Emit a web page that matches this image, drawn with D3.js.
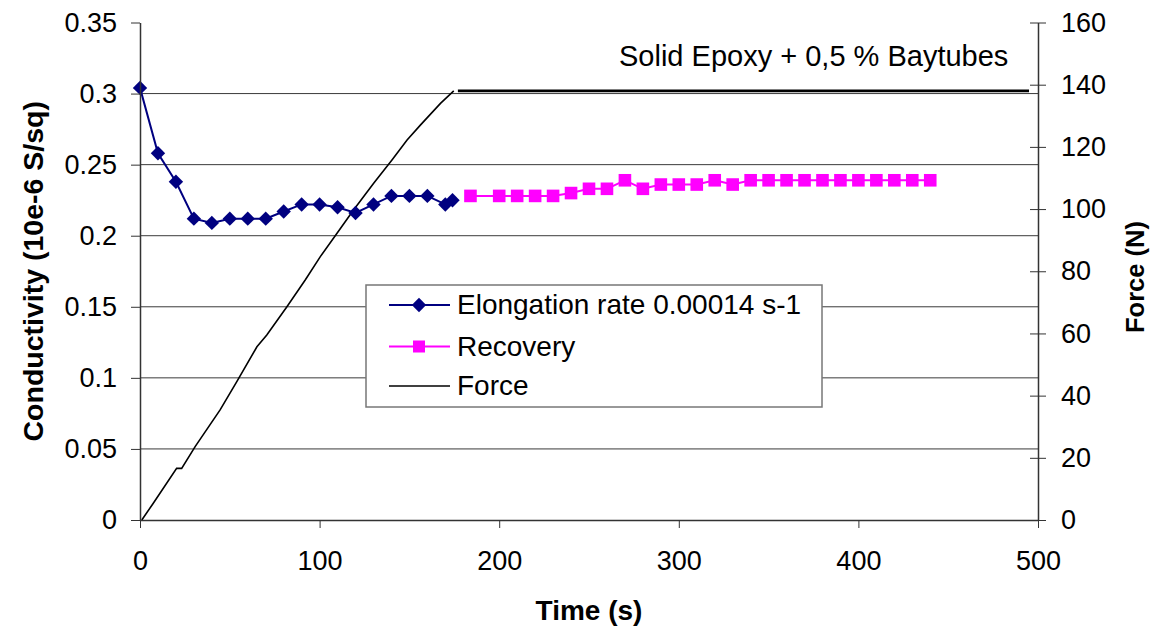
<!DOCTYPE html>
<html><head><meta charset="utf-8">
<script src="https://cdn.jsdelivr.net/npm/d3@7"></script>
<style>
body{margin:0;background:#fff;}
text{font-family:"Liberation Sans",Arial,sans-serif;fill:#000;}
</style>
</head><body>
<svg id="chart" width="1151" height="629"></svg>
<script>
// ---- data ----
const elongTime = [0,10,20,30,40,50,60,70,80,90,100,110,120,130,140,150,160,170,174];
const elongCond = [0.304,0.258,0.238,0.212,0.209,0.212,0.212,0.212,0.217,0.222,0.222,0.220,0.216,0.222,0.228,0.228,0.228,0.222,0.225];
const recTime = [184,200,210,220,230,240,250,260,270,280,290,300,310,320,330,340,350,360,370,380,390,400,410,420,430,440];
const recCond = [0.228,0.228,0.228,0.228,0.228,0.230,0.233,0.233,0.239,0.233,0.236,0.236,0.236,0.239,0.236,0.239,0.239,0.239,0.239,0.239,0.239,0.239,0.239,0.239,0.239,0.239];
const forceTime = [1,7.4,20.4,23.2,30.7,44.6,53.9,65.1,70.6,81.8,92.0,100.4,109.7,118.9,130.1,140.3,148.7,156.1,167.3,174.7,175.8,177,495];
const forceVal  = [0,5.4,16.6,16.6,23.6,35.4,44.5,55.7,59.5,68.6,77.2,84.7,92.2,99.7,108.3,115.8,122.2,127.0,134.0,138.0,null,138.0,138.0];
const xTicks = [0,100,200,300,400,500];
const yLeftTicks = [0,0.05,0.1,0.15,0.2,0.25,0.3,0.35];
const yRightTicks = [0,20,40,60,80,100,120,140,160];
const seriesNames = ["Elongation rate 0.00014 s-1","Recovery","Force"];
const annotation = "Solid Epoxy + 0,5 % Baytubes";

// ---- scales ----
const svg = d3.select("#chart");
const x = d3.scaleLinear().domain([0,500]).range([140,1038]);
const yL = d3.scaleLinear().domain([0,0.35]).range([520,22.5]);
const yR = d3.scaleLinear().domain([0,160]).range([520,22.5]);

// gridlines
svg.append("g").selectAll("line").data(yLeftTicks.filter(d=>d>0 && d<0.35)).join("line")
  .attr("x1",x(0)).attr("x2",x(500)).attr("y1",d=>yL(d)).attr("y2",d=>yL(d))
  .attr("stroke","#3a3a3a").attr("stroke-width",1);

// force line (secondary axis), split into segments at gaps
const forcePts = forceTime.map((t,i)=>({t,f:forceVal[i]}));
const segs = [];
let cur = [];
forcePts.forEach(p=>{ if(p.f==null){ if(cur.length) segs.push(cur); cur=[]; } else cur.push(p); });
if(cur.length) segs.push(cur);
const fLine = d3.line().x(d=>x(d.t)).y(d=>yR(d.f));
svg.append("g").selectAll("path").data(segs).join("path")
  .attr("d",fLine).attr("fill","none").attr("stroke","#000")
  .attr("stroke-width",(d,i)=>i===segs.length-1?2.6:1.6);

// elongation series
const ePts = elongTime.map((t,i)=>({t,v:elongCond[i]}));
const cLine = d3.line().x(d=>x(d.t)).y(d=>yL(d.v));
svg.append("path").datum(ePts).attr("d",cLine).attr("fill","none").attr("stroke","#000080").attr("stroke-width",2);
const diamond = "M0,-7.2L7.2,0L0,7.2L-7.2,0Z";
svg.append("g").selectAll("path").data(ePts).join("path")
  .attr("d",diamond).attr("transform",d=>`translate(${x(d.t)},${yL(d.v)})`).attr("fill","#000080");

// recovery series
const rPts = recTime.map((t,i)=>({t,v:recCond[i]}));
svg.append("path").datum(rPts).attr("d",cLine).attr("fill","none").attr("stroke","#FF00FF").attr("stroke-width",2);
svg.append("g").selectAll("rect").data(rPts).join("rect")
  .attr("x",d=>x(d.t)-6.3).attr("y",d=>yL(d.v)-6.3).attr("width",12.6).attr("height",12.6).attr("fill","#FF00FF");

// axes
const axL = d3.axisLeft(yL).tickValues(yLeftTicks).tickSizeInner(9).tickSizeOuter(0).tickPadding(14).tickFormat(d=>String(d));
const gL = svg.append("g").attr("transform",`translate(${x(0)},0)`).call(axL);
const axB = d3.axisBottom(x).tickValues(xTicks).tickSizeInner(8).tickSizeOuter(0).tickPadding(23).tickFormat(d=>String(d));
const gB = svg.append("g").attr("transform",`translate(0,${yL(0)})`).call(axB);
const axR = d3.axisRight(yR).tickValues(yRightTicks).tickSizeInner(8).tickSizeOuter(0).tickPadding(15).tickFormat(d=>String(d));
const gR = svg.append("g").attr("transform",`translate(${x(500)},0)`).call(axR);
gR.selectAll(".tick line").attr("x1",-8).attr("x2",8);
[gL,gB,gR].forEach(g=>{
  g.selectAll("text").attr("font-size",27).attr("font-family",'"Liberation Sans",Arial,sans-serif').attr("fill","#000");
  g.selectAll("line").attr("stroke","#333");
  g.select(".domain").attr("stroke","#333").attr("stroke-width",1.5);
});

// axis titles
svg.append("text").attr("transform",`translate(33,${(yL(0)+yL(0.35))/2}) rotate(-90)`)
  .attr("text-anchor","middle").attr("dy","0.35em").attr("font-size",28.5).attr("font-weight","bold").text("Conductivity (10e-6 S/sq)");
svg.append("text").attr("transform",`translate(1135,277) rotate(-90)`)
  .attr("text-anchor","middle").attr("dy","0.35em").attr("font-size",25.5).attr("font-weight","bold").text("Force (N)");
svg.append("text").attr("x",(x(0)+x(500))/2).attr("y",620)
  .attr("text-anchor","middle").attr("font-size",28).attr("font-weight","bold").text("Time (s)");

// annotation
svg.append("text").attr("x",619).attr("y",66).attr("font-size",29).text(annotation);

// legend
const lg = svg.append("g");
lg.append("rect").attr("x",366).attr("y",285).attr("width",456).attr("height",122)
  .attr("fill","#fff").attr("stroke","#777").attr("stroke-width",1.5);
const rows = [305,346.5,386];
const lcolors = ["#000080","#FF00FF","#000"];
seriesNames.forEach((name,i)=>{
  const yy = rows[i];
  lg.append("line").attr("x1",389).attr("x2",450).attr("y1",yy).attr("y2",yy)
    .attr("stroke",lcolors[i]).attr("stroke-width",i===2?1.6:2);
  if(i===0) lg.append("path").attr("d",diamond).attr("transform",`translate(419,${yy})`).attr("fill","#000080");
  if(i===1) lg.append("rect").attr("x",413).attr("y",yy-6).attr("width",12).attr("height",12).attr("fill","#FF00FF");
  lg.append("text").attr("x",457).attr("y",yy+9).attr("font-size",28).text(name);
});
</script>
</body></html>
